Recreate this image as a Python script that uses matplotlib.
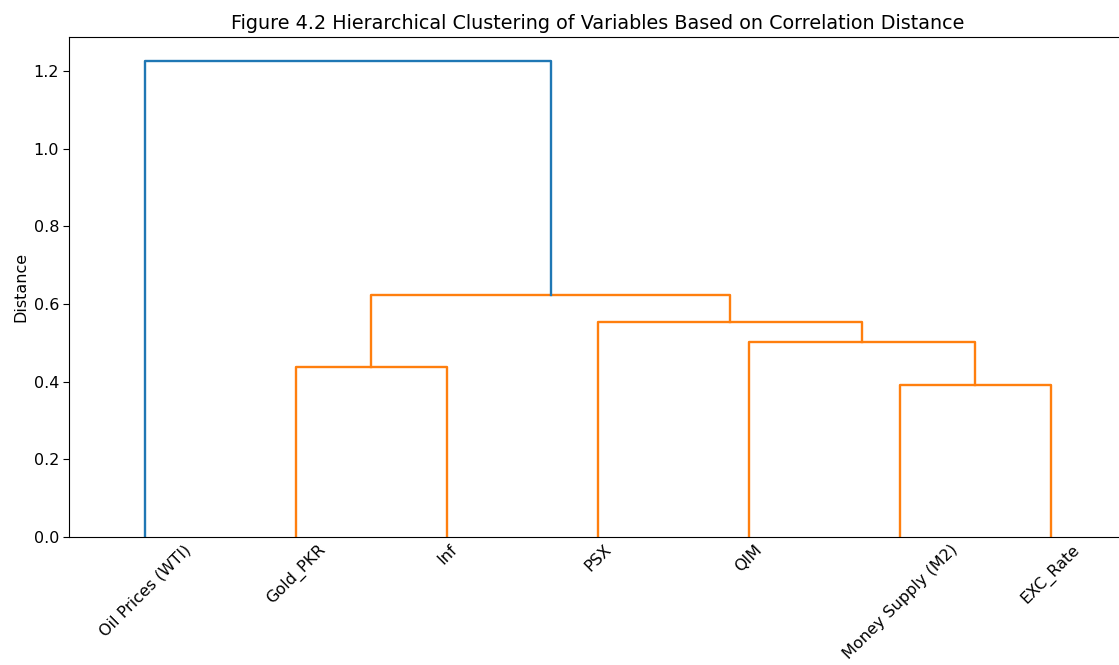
import numpy as np
import matplotlib.pyplot as plt

# leaf labels, in dendrogram order
labels = ["Oil Prices (WTI)", "Gold_PKR", "Inf", "PSX", "QIM",
          "Money Supply (M2)", "EXC_Rate"]

# merges: (left node, right node, distance); nodes >= 7 are earlier merges
merge_left = [5, 1, 4, 3, 8, 0]
merge_right = [6, 2, 7, 9, 10, 11]
merge_dist = [0.391, 0.438, 0.502, 0.554, 0.623, 1.226]

n = len(labels)
color_threshold = 0.7 * max(merge_dist)

plt.rcParams["font.size"] = 11.5

fig = plt.figure(figsize=(11.19, 6.65), dpi=100)
ax = fig.add_axes([0.0621, 0.1925, 0.9446, 0.7519])

# x position / height of every node (leaves at 5, 15, 25, ...)
xpos = {i: 5 + 10 * i for i in range(n)}
ypos = {i: 0.0 for i in range(n)}
for k, (a, b, d) in enumerate(zip(merge_left, merge_right, merge_dist)):
    node = n + k
    xs = [xpos[a], xpos[a], xpos[b], xpos[b]]
    ys = [ypos[a], d, d, ypos[b]]
    col = "C1" if d < color_threshold else "C0"
    ax.plot(xs, ys, color=col, lw=1.7)
    xpos[node] = (xpos[a] + xpos[b]) / 2
    ypos[node] = d

ax.set_xlim(0, 10 * n)
ax.set_ylim(0, max(merge_dist) * 1.05)
ax.set_xticks(5 + 10 * np.arange(n))
ax.set_xticklabels(labels, rotation=45, ha="center")
ax.tick_params(axis="x", length=0)
ax.tick_params(axis="y", length=4)
ax.set_ylabel("Distance")
ax.set_title("Figure 4.2 Hierarchical Clustering of Variables Based on Correlation Distance",
             fontsize=13.8)

fig.savefig("out.png", dpi=100)
